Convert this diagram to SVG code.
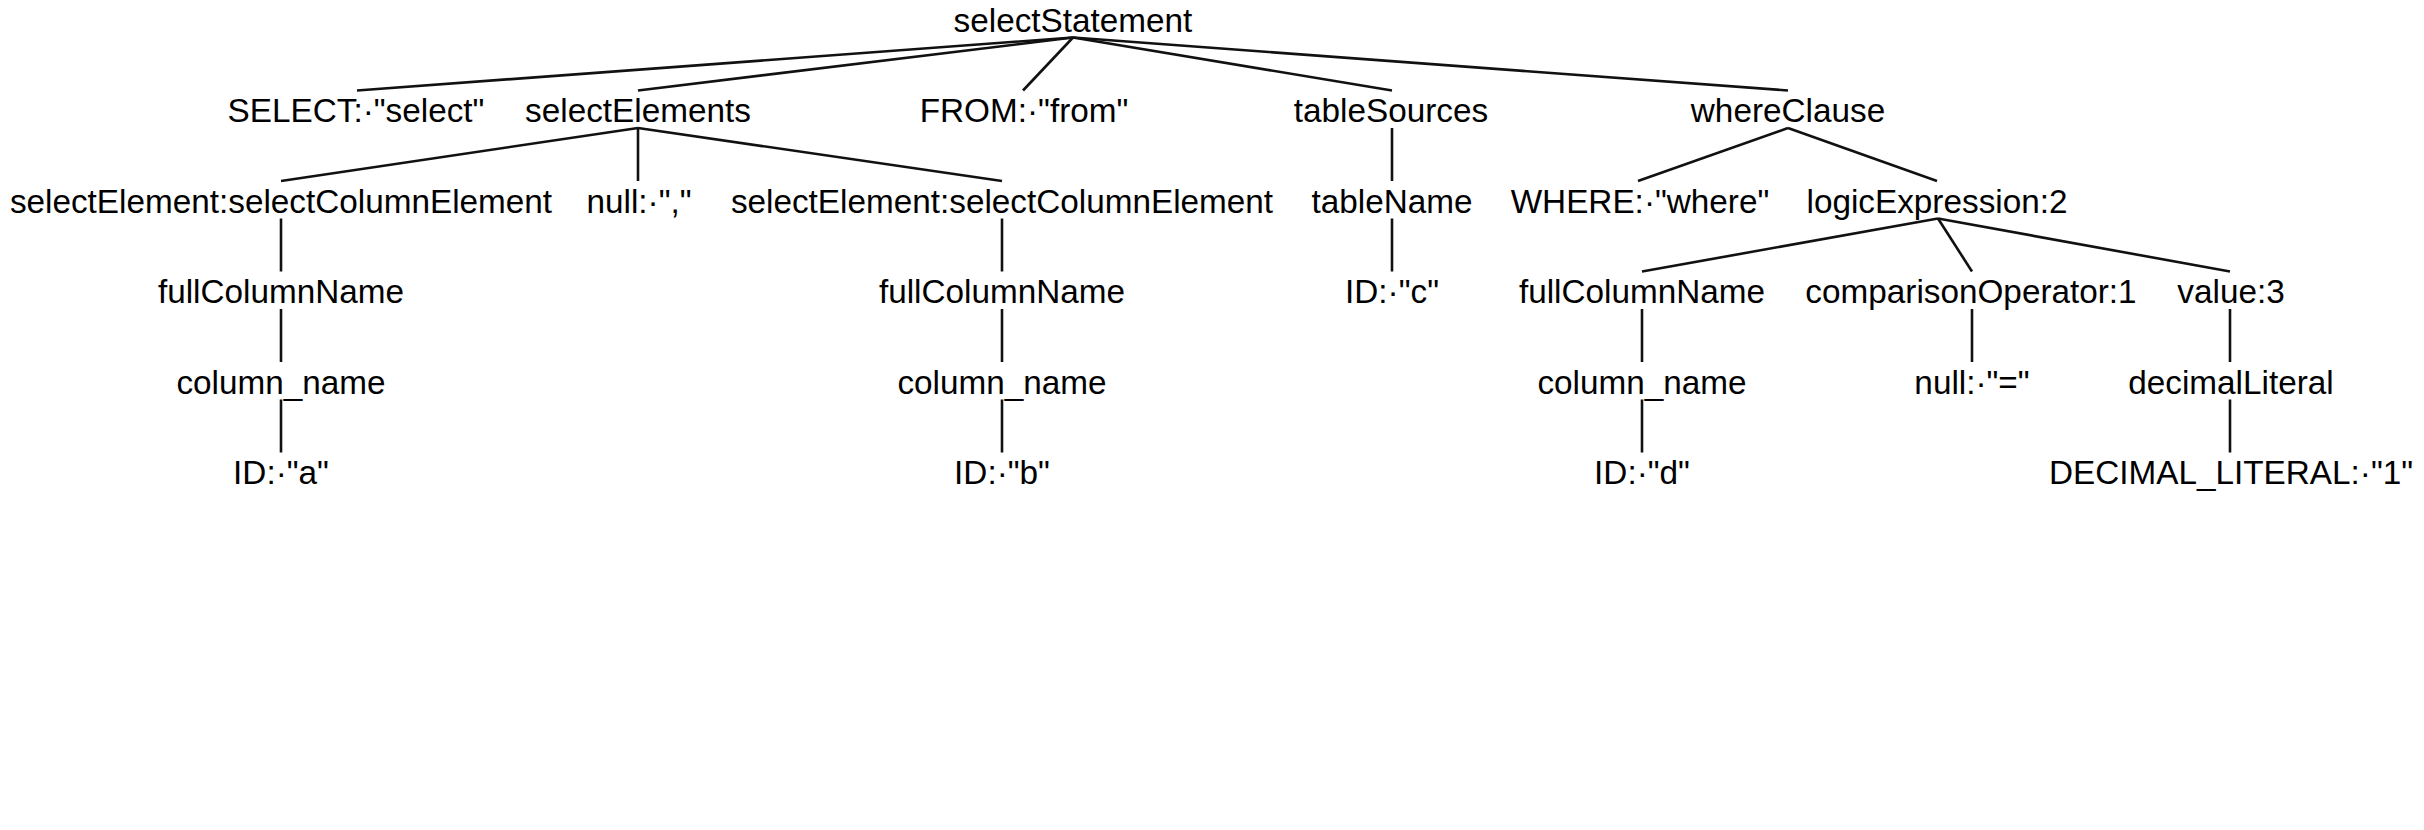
<svg xmlns="http://www.w3.org/2000/svg" width="2424" height="830" viewBox="0 0 2424 830">
<style>
.t{font-family:"Liberation Sans",Arial,Helvetica,sans-serif;font-size:33.3px;fill:#000;text-anchor:middle}
.e line{stroke:#111;stroke-width:2.6;fill:none}
</style>
<rect width="2424" height="830" fill="#fff"/>
<g id="edges" class="e">
<line x1="1073" y1="37.5" x2="357" y2="90.5"/>
<line x1="1073" y1="37.5" x2="638" y2="90.5"/>
<line x1="1073" y1="37.5" x2="1023" y2="90.5"/>
<line x1="1073" y1="37.5" x2="1392" y2="90.5"/>
<line x1="1073" y1="37.5" x2="1788" y2="90.5"/>
<line x1="638" y1="128" x2="281" y2="181"/>
<line x1="638" y1="128" x2="638" y2="181"/>
<line x1="638" y1="128" x2="1002" y2="181"/>
<line x1="1392" y1="128" x2="1392" y2="181"/>
<line x1="1788" y1="128" x2="1638" y2="181"/>
<line x1="1788" y1="128" x2="1937" y2="181"/>
<line x1="281" y1="218.5" x2="281" y2="271.5"/>
<line x1="1002" y1="218.5" x2="1002" y2="271.5"/>
<line x1="1392" y1="218.5" x2="1392" y2="271.5"/>
<line x1="1938" y1="218.5" x2="1642" y2="271.5"/>
<line x1="1938" y1="218.5" x2="1972" y2="271.5"/>
<line x1="1938" y1="218.5" x2="2230" y2="271.5"/>
<line x1="281" y1="309" x2="281" y2="362"/>
<line x1="1002" y1="309" x2="1002" y2="362"/>
<line x1="1642" y1="309" x2="1642" y2="362"/>
<line x1="1972" y1="309" x2="1972" y2="362"/>
<line x1="2230" y1="309" x2="2230" y2="362"/>
<line x1="281" y1="399.5" x2="281" y2="452.5"/>
<line x1="1002" y1="399.5" x2="1002" y2="452.5"/>
<line x1="1642" y1="399.5" x2="1642" y2="452.5"/>
<line x1="2230" y1="399.5" x2="2230" y2="452.5"/>
</g>
<g id="n0"><text class="t" x="1073" y="31.5">selectStatement</text></g>
<g id="n1"><text class="t" x="356" y="122">SELECT:·"select"</text></g>
<g id="n2"><text class="t" x="638" y="122">selectElements</text></g>
<g id="n3"><text class="t" x="1024" y="122">FROM:·"from"</text></g>
<g id="n4"><text class="t" x="1391" y="122">tableSources</text></g>
<g id="n5"><text class="t" x="1788" y="122">whereClause</text></g>
<g id="n6"><text class="t" x="281" y="212.5">selectElement:selectColumnElement</text></g>
<g id="n7"><text class="t" x="639" y="212.5">null:·","</text></g>
<g id="n8"><text class="t" x="1002" y="212.5">selectElement:selectColumnElement</text></g>
<g id="n9"><text class="t" x="1392" y="212.5">tableName</text></g>
<g id="n10"><text class="t" x="1640" y="212.5">WHERE:·"where"</text></g>
<g id="n11"><text class="t" x="1937" y="212.5">logicExpression:2</text></g>
<g id="n12"><text class="t" x="281" y="303">fullColumnName</text></g>
<g id="n13"><text class="t" x="1002" y="303">fullColumnName</text></g>
<g id="n14"><text class="t" x="1392" y="303">ID:·"c"</text></g>
<g id="n15"><text class="t" x="1642" y="303">fullColumnName</text></g>
<g id="n16"><text class="t" x="1971" y="303">comparisonOperator:1</text></g>
<g id="n17"><text class="t" x="2231" y="303">value:3</text></g>
<g id="n18"><text class="t" x="281" y="393.5">column_name</text></g>
<g id="n19"><text class="t" x="1002" y="393.5">column_name</text></g>
<g id="n20"><text class="t" x="1642" y="393.5">column_name</text></g>
<g id="n21"><text class="t" x="1972" y="393.5">null:·"="</text></g>
<g id="n22"><text class="t" x="2231" y="393.5">decimalLiteral</text></g>
<g id="n23"><text class="t" x="281" y="484">ID:·"a"</text></g>
<g id="n24"><text class="t" x="1002" y="484">ID:·"b"</text></g>
<g id="n25"><text class="t" x="1642" y="484">ID:·"d"</text></g>
<g id="n26"><text class="t" x="2231" y="484">DECIMAL_LITERAL:·"1"</text></g>
</svg>
